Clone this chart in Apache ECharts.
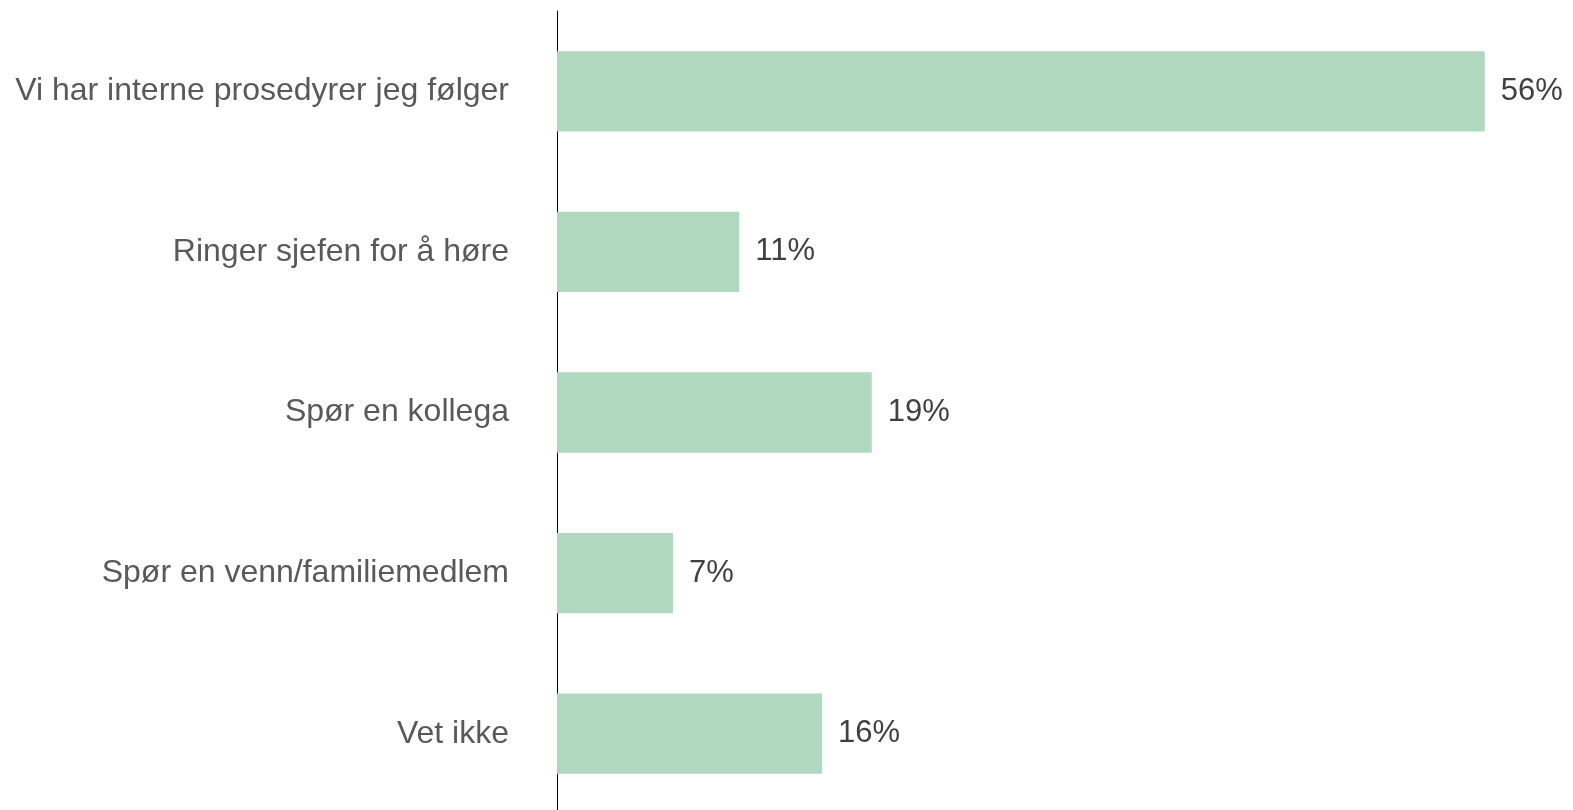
<!DOCTYPE html>
<html>
<head>
<meta charset="utf-8">
<script src="https://cdn.jsdelivr.net/npm/echarts@6/dist/echarts.min.js"></script>
<style>
  html, body { margin: 0; padding: 0; background: #fff; }
  #main { width: 1573px; height: 810px; }
</style>
</head>
<body>
<div id="main"></div>
<script>
var categories = ['Vi har interne prosedyrer jeg følger', 'Ringer sjefen for å høre', 'Spør en kollega', 'Spør en venn/familiemedlem', 'Vet ikke'];
var values = [56, 11, 19, 7, 16];

var myChart = echarts.init(document.getElementById('main'));
var option = {
    animation: false,
    grid: {
        left: 557,
        right: 22,
        top: 11,
        height: 803,
        outerBoundsMode: 'none'
    },
    xAxis: {
        type: 'value',
        min: 0,
        max: 60,
        show: false
    },
    yAxis: {
        type: 'category',
        inverse: true,
        data: categories,
        axisLine: { show: true, lineStyle: { color: '#000', width: 1 } },
        axisTick: { show: false },
        axisLabel: {
            margin: 48,
            fontFamily: 'Liberation Sans',
            fontSize: 32,
            color: '#595959',
            padding: [8, 0, 0, 0]
        }
    },
    series: [
        {
            type: 'bar',
            barWidth: '50%',
            data: values,
            itemStyle: { color: '#b0d8bf' },
            label: {
                show: true,
                position: 'right',
                distance: 16,
                formatter: '{c}%',
                fontFamily: 'Liberation Sans',
                fontSize: 31,
                color: '#404040',
                padding: [8, 0, 0, 0]
            }
        }
    ]
};
myChart.setOption(option);
</script>
</body>
</html>
